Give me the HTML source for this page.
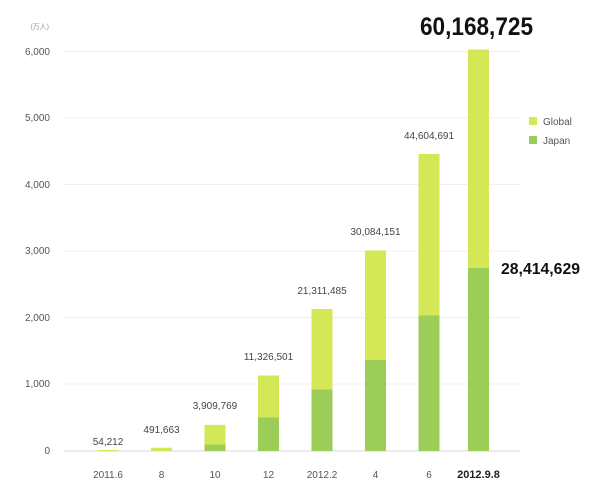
<!DOCTYPE html>
<html><head><meta charset="utf-8"><style>
html,body{margin:0;padding:0;background:#fff;}
svg{display:block;}
text{font-family:"Liberation Sans","Noto Sans CJK JP",sans-serif;}
</style></head><body>
<svg width="600" height="500" xmlns="http://www.w3.org/2000/svg">
<g stroke="#efefef" stroke-width="1">
<line x1="64" y1="51.5" x2="520" y2="51.5"/>
<line x1="64" y1="118" x2="520" y2="118"/>
<line x1="64" y1="184.5" x2="520" y2="184.5"/>
<line x1="64" y1="251" x2="520" y2="251"/>
<line x1="64" y1="317.5" x2="520" y2="317.5"/>
<line x1="64" y1="384" x2="520" y2="384"/>
</g>
<line x1="64" y1="451" x2="520" y2="451" stroke="#d8d8d8" stroke-width="1"/>
<g font-size="10" fill="#555" text-anchor="end">
<text x="49" y="29" font-size="7" fill="#999">(万人)</text>
<text x="50" y="55">6,000</text>
<text x="50" y="121">5,000</text>
<text x="50" y="188">4,000</text>
<text x="50" y="254">3,000</text>
<text x="50" y="321">2,000</text>
<text x="50" y="387">1,000</text>
<text x="50" y="454">0</text>
</g>
<!-- bars: center 108+53.5*i, width 21 -->
<g>
<rect x="97.5" y="450" width="21" height="1" fill="#d4e757"/>
<rect x="151" y="447.7" width="21" height="3.3" fill="#d4e757"/>
<rect x="204.5" y="424.9" width="21" height="26.1" fill="#d4e757"/>
<rect x="204.5" y="444.5" width="21" height="6.5" fill="#9ccd58"/>
<rect x="258" y="375.5" width="21" height="75.5" fill="#d4e757"/>
<rect x="258" y="417.5" width="21" height="33.5" fill="#9ccd58"/>
<rect x="311.5" y="309" width="21" height="142" fill="#d4e757"/>
<rect x="311.5" y="389.5" width="21" height="61.5" fill="#9ccd58"/>
<rect x="365" y="250.5" width="21" height="200.5" fill="#d4e757"/>
<rect x="365" y="360" width="21" height="91" fill="#9ccd58"/>
<rect x="418.5" y="154" width="21" height="297" fill="#d4e757"/>
<rect x="418.5" y="315.5" width="21" height="135.5" fill="#9ccd58"/>
<rect x="468" y="49.5" width="21" height="401.5" fill="#d4e757"/>
<rect x="468" y="268" width="21" height="183" fill="#9ccd58"/>
</g>
<g font-size="10" fill="#444" text-anchor="middle">
<text x="108" y="445">54,212</text>
<text x="161.5" y="433">491,663</text>
<text x="215" y="409">3,909,769</text>
<text x="268.5" y="360">11,326,501</text>
<text x="322" y="294">21,311,485</text>
<text x="375.5" y="235">30,084,151</text>
<text x="429" y="139">44,604,691</text>
</g>
<g font-size="10" fill="#555" text-anchor="middle">
<text x="108" y="478">2011.6</text>
<text x="161.5" y="478">8</text>
<text x="215" y="478">10</text>
<text x="268.5" y="478">12</text>
<text x="322" y="478">2012.2</text>
<text x="375.5" y="478">4</text>
<text x="429" y="478">6</text>
<text x="478.5" y="478" font-weight="bold" fill="#222" font-size="11">2012.9.8</text>
</g>
<text x="420" y="35" font-size="25" font-weight="bold" fill="#111" textLength="113" lengthAdjust="spacingAndGlyphs">60,168,725</text>
<text x="501" y="274" font-size="16" font-weight="bold" fill="#111" textLength="79" lengthAdjust="spacingAndGlyphs">28,414,629</text>
<rect x="529" y="117" width="8" height="8" fill="#d4e757"/>
<text x="543" y="125" font-size="10" fill="#555">Global</text>
<rect x="529" y="136" width="8" height="8" fill="#9ccd58"/>
<text x="543" y="144" font-size="10" fill="#555">Japan</text>
</svg>
</body></html>
